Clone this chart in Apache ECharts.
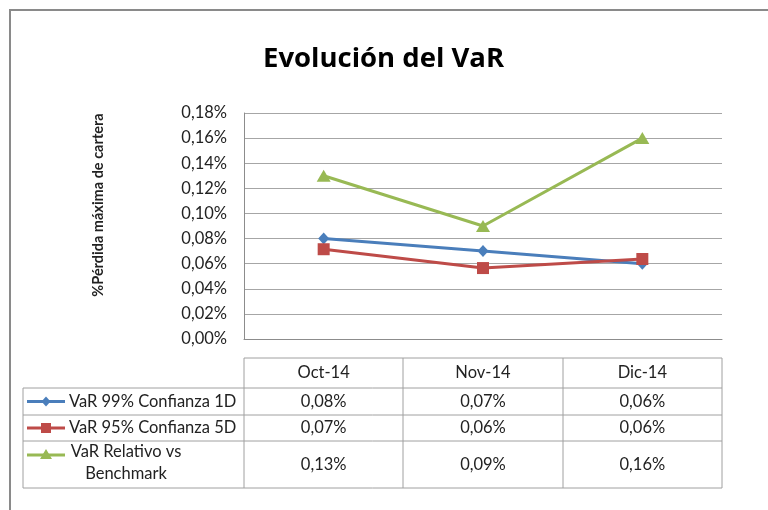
<html>
<head>
    <meta charset="utf-8">
    <title>Evolución del VaR</title>
    <script src="https://cdn.jsdelivr.net/npm/echarts@6/dist/echarts.min.js"></script>
</head>
<body style="margin: 0">
<div id="container" style="width: 768px; height: 510px"></div>
<script>
    // datos (en %)
    var categories = ['Oct-14', 'Nov-14', 'Dic-14'];
    var seriesNames = ['VaR 99% Confianza 1D', 'VaR 95% Confianza 5D', 'VaR Relativo vs Benchmark'];
    var legendLabels = ['VaR 99% Confianza 1D', 'VaR 95% Confianza 5D', 'VaR Relativo vs\nBenchmark'];
    var var99 = [0.080, 0.070, 0.060];
    var var95 = [0.0715, 0.0565, 0.0637];
    var varRel = [0.130, 0.090, 0.160];
    var yTicks = [0, 0.02, 0.04, 0.06, 0.08, 0.10, 0.12, 0.14, 0.16, 0.18];

    var values = [var99, var95, varRel];
    var colors = ['#4a7ebb', '#be4b48', '#98b954'];
    var symbols = ['diamond', 'rect', 'triangle'];
    var symbolSizes = [[11, 12], 12, [14, 12]];
    var font = 'Lato, "Open Sans", sans-serif';
    var fs = 16.5;

    var fmt = function (v) {
        return v.toFixed(2).replace('.', ',') + '%';
    };

    var myChart = echarts.init(document.getElementById('container'));

    // geometria del area de trazado y de la tabla de datos
    var gL = 244, gR = 722, gT = 113, gB = 339;
    var tabLeft = 23;
    var rows = [358, 388, 415, 441, 488];
    var colW = (gR - gL) / categories.length;
    var lineCol = '#a0a0a0';

    var graphic = [];
    // marco exterior
    graphic.push({
        type: 'rect', shape: {x: 10, y: 10, width: 800, height: 560},
        style: {fill: 'none', stroke: '#8a8a8a', lineWidth: 2}
    });
    // titulo eje y
    graphic.push({
        type: 'text', x: 98, y: 205, rotation: Math.PI / 2,
        style: {
            text: '%Pérdida máxima de cartera', fontFamily: font, fontSize: 14.5, fontWeight: 'bold',
            fill: '#222', align: 'center', verticalAlign: 'middle'
        }
    });
    // lineas horizontales de la tabla
    for (var r = 0; r < rows.length; r++) {
        graphic.push({
            type: 'line', shape: {x1: r === 0 ? gL : tabLeft, y1: rows[r], x2: gR, y2: rows[r]},
            style: {stroke: lineCol, lineWidth: 1}
        });
    }
    // lineas verticales
    graphic.push({
        type: 'line', shape: {x1: tabLeft, y1: rows[1], x2: tabLeft, y2: rows[4]},
        style: {stroke: lineCol, lineWidth: 1}
    });
    for (var c = 0; c <= categories.length; c++) {
        var xc = Math.round(gL + c * colW);
        graphic.push({
            type: 'line', shape: {x1: xc, y1: rows[0], x2: xc, y2: rows[4]},
            style: {stroke: lineCol, lineWidth: 1}
        });
    }
    // cabecera con categorias
    for (var i = 0; i < categories.length; i++) {
        graphic.push({
            type: 'text', x: gL + (i + 0.5) * colW, y: (rows[0] + rows[1]) / 2,
            style: {
                text: categories[i], fontFamily: font, fontSize: fs, fill: '#222',
                align: 'center', verticalAlign: 'middle'
            }
        });
    }
    // filas: leyenda + valores
    var iconY = [401.5, 428, 455];
    for (var s = 0; s < values.length; s++) {
        var rowMid = (rows[s + 1] + rows[s + 2]) / 2;
        for (var k = 0; k < categories.length; k++) {
            graphic.push({
                type: 'text', x: gL + (k + 0.5) * colW, y: rowMid,
                style: {
                    text: fmt(values[s][k]), fontFamily: font, fontSize: fs, fill: '#222',
                    align: 'center', verticalAlign: 'middle'
                }
            });
        }
        var iy = iconY[s];
        graphic.push({
            type: 'line', shape: {x1: 27, y1: iy, x2: 65, y2: iy},
            style: {stroke: colors[s], lineWidth: 3}
        });
        var mk;
        if (s === 0) {
            mk = {type: 'polygon', shape: {points: [[46, iy - 5], [50.5, iy], [46, iy + 5], [41.5, iy]]}};
        } else if (s === 1) {
            mk = {type: 'rect', shape: {x: 41, y: iy - 5, width: 10, height: 10}};
        } else {
            mk = {type: 'polygon', shape: {points: [[46, iy - 6], [52, iy + 4], [40, iy + 4]]}};
        }
        mk.style = {fill: colors[s]};
        graphic.push(mk);
        if (s < 2) {
            graphic.push({
                type: 'text', x: 69, y: rowMid,
                style: {
                    text: legendLabels[s], fontFamily: font, fontSize: fs, fill: '#222',
                    align: 'left', verticalAlign: 'middle'
                }
            });
        } else {
            graphic.push({
                type: 'text', x: 126, y: 463,
                style: {
                    text: legendLabels[s], fontFamily: font, fontSize: fs, fill: '#222',
                    align: 'center', verticalAlign: 'middle', lineHeight: 22
                }
            });
        }
    }

    var series = [];
    for (var j = 0; j < values.length; j++) {
        series.push({
            name: seriesNames[j],
            type: 'line',
            data: values[j],
            symbol: symbols[j],
            symbolSize: symbolSizes[j],
            showAllSymbol: true,
            lineStyle: {color: colors[j], width: 3},
            itemStyle: {color: colors[j]},
            z: 3 + j
        });
    }

    option = {
        backgroundColor: '#fff',
        animation: false,
        title: {
            text: 'Evolución del VaR',
            left: 258,
            top: 40,
            textStyle: {fontFamily: '"Open Sans", Lato, sans-serif', fontSize: 27.5, fontWeight: 'bold', color: '#000'}
        },
        grid: {left: gL, right: 768 - gR, top: gT, bottom: 510 - gB},
        xAxis: {
            type: 'category',
            data: categories,
            boundaryGap: true,
            axisLine: {lineStyle: {color: '#8c8c8c', width: 1}},
            axisTick: {show: false},
            axisLabel: {show: false}
        },
        yAxis: {
            type: 'value',
            min: yTicks[0],
            max: yTicks[yTicks.length - 1],
            interval: 0.02,
            axisLine: {show: true, lineStyle: {color: '#8c8c8c', width: 1}},
            axisTick: {show: false},
            splitLine: {lineStyle: {color: '#a6a6a6', width: 1}},
            axisLabel: {
                margin: 17,
                fontFamily: font,
                fontSize: fs,
                color: '#222',
                formatter: function (v) { return fmt(v); }
            }
        },
        graphic: graphic,
        series: series
    };

    myChart.setOption(option);
</script>
</body>
</html>
